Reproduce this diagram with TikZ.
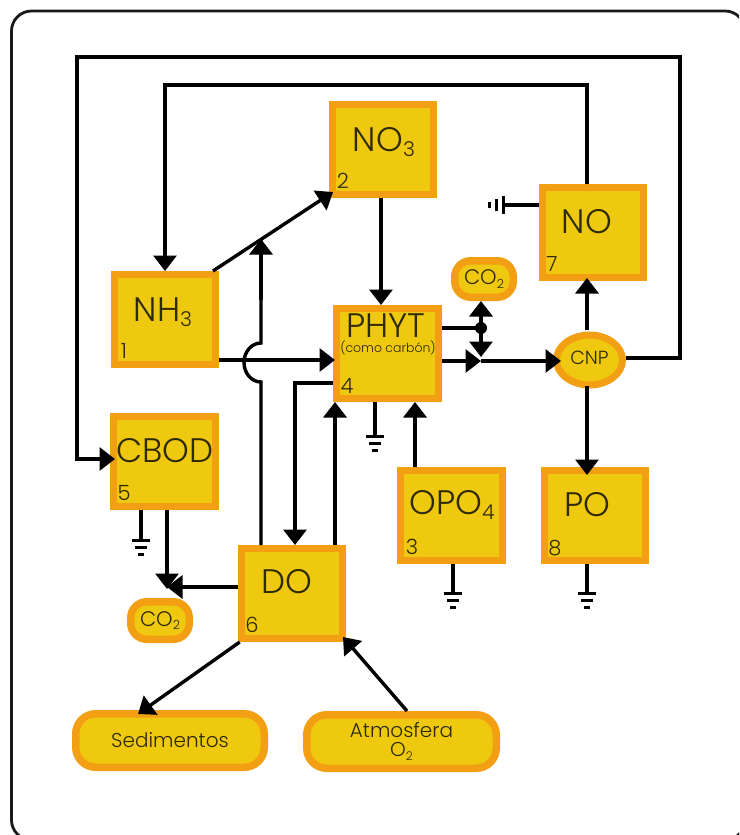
\documentclass[tikz,border=0pt]{standalone}
\usepackage{fontspec}
\setmainfont{Poppins Light}
\usetikzlibrary{arrows.meta}
\definecolor{boxfill}{HTML}{EFC90F}
\definecolor{boxedge}{HTML}{F39F14}
\definecolor{ink}{HTML}{2E2A08}
\tikzset{
  box/.style={draw=boxedge,fill=boxfill,line width=7pt,minimum width=101.5pt,minimum height=90pt,inner sep=0pt},
  pill/.style={draw=boxedge,fill=boxfill,line width=7.5pt,rounded corners=16pt,inner sep=0pt,align=center,text=ink},
  boxname/.style={text=ink,inner sep=0pt,font=\fontsize{34}{35}\selectfont},
  boxnum/.style={text=ink,inner sep=0pt,font=\fontsize{21}{22}\selectfont},
  wire/.style={line width=3.4pt,black},
  arr/.style={wire,-{Triangle[length=15.5pt,width=23pt]}},
  gnd/.style={line width=3pt,black},
}
\newcommand{\sbs}[1]{\raisebox{-0.3ex}{\scalebox{0.6}{#1}}}
\begin{document}
\begin{tikzpicture}[x=1pt,y=-1pt]
\useasboundingbox (0,0) rectangle (739,835);
\fill[white] (0,0) rectangle (739,835);
\begin{scope}
\clip (0,0) rectangle (739,835);
\draw[line width=2.8pt,black!90,rounded corners=20pt] (11.5,11) rectangle (745,840);
\end{scope}
% boxes
\node[box] (no3) at (383,149.5) {};
\node[box] (nh3) at (165,319.5) {};
\node[box] (phyt) at (387.5,353.5) {};
\node[box] (no) at (593,232.5) {};
\node[box] (cbod) at (164.5,461.5) {};
\node[box] (opo4) at (451.5,515.5) {};
\node[box] (po) at (595,515.5) {};
\node[box] (do) at (292,593.5) {};
\node[pill,minimum width=58.5pt,minimum height=36.5pt,font=\fontsize{21}{22}\selectfont] (co2a) at (484,279) {CO\sbs{2}};
\node[pill,minimum width=58.5pt,minimum height=37.5pt,font=\fontsize{21}{22}\selectfont] (co2b) at (160,620.5) {CO\sbs{2}};
\node[pill,minimum width=188.5pt,minimum height=53.5pt,rounded corners=20pt,font=\fontsize{20}{22}\selectfont] (sed) at (170,740.5) {Sedimentos};
\node[pill,minimum width=189.5pt,minimum height=53.5pt,rounded corners=20pt,font=\fontsize{20}{24}\selectfont] (atm) at (401.5,741.5) {Atmosfera\\[-5pt]O\sbs{2}};
% ellipse
\draw[boxedge,fill=boxfill,line width=7pt] (589.5,360) ellipse (33pt and 25pt);
\node[text=ink,inner sep=0pt,font=\fontsize{19}{20}\selectfont,minimum width=72pt,minimum height=56pt] (cnp) at (589.5,358) {CNP};
% labels
\node[boxname] (tno3) at (384,142) {NO\sbs{3}};
\node[boxname] (tnh3) at (163,312) {NH\sbs{3}};
\node[boxname] (tphyt) at (386,326) {PHYT};
\node[text=ink,inner sep=0pt,font=\fontsize{12.5}{13}\selectfont] (tcomo) at (388,348) {(como carbón)};
\node[boxname] (tno) at (587,222) {NO};
\node[boxname] (tcbod) at (165,451) {CBOD};
\node[boxname] (topo) at (452,505) {OPO\sbs{4}};
\node[boxname] (tpo) at (587,505) {PO};
\node[boxname] (tdo) at (287,582) {DO};
\node[boxnum] (n2) at (343,181) {2};
\node[boxnum] (n1) at (124,351) {1};
\node[boxnum] (n4) at (347,386) {4};
\node[boxnum] (n7) at (552,264) {7};
\node[boxnum] (n5) at (124,493) {5};
\node[boxnum] (n3) at (412,547) {3};
\node[boxnum] (n8) at (555,548) {8};
\node[boxnum] (n6) at (252,625) {6};
% named free points
\coordinate (jv) at (261,239);
\coordinate (jd) at (481,328);
\coordinate (jm) at (481,361);
\coordinate (jc) at (167,587);
% connectors
\draw[arr] (cnp.east |- 0,358) -- (680,358) -- (680,57) -- (77,57) -- (77,459) -- (115,459);
\draw[arr] (no.north -| 587,0) -- (587,85) -- (165,85) -- (nh3.north -| 165,0);
\draw[arr] (213,271) -- (333,192);
\draw[arr] (no3.south -| 381,0) -- (phyt.north -| 381,0);
\draw[arr] (nh3.east |- 0,360) -- (335,360);
\draw[wire] (do.north -| 261,0) -- (261,382) arc[start angle=270,end angle=90,x radius=17pt,y radius=19.5pt] -- (jv);
\draw[wire,-{Triangle[length=15.5pt,width=23pt]}] (261,300) -- (jv);
\draw[arr] (phyt.west |- 0,383) -- (295,383) -- (do.north -| 295,0);
\draw[arr] (do.north -| 335,0) -- (phyt.south -| 335,0);
\draw[arr] (opo4.north -| 415,0) -- (phyt.south -| 415,0);
\draw[wire] (phyt.east |- jd) -- (jd);
\fill (jd) circle (6pt);
\draw[arr] (jd) -- (co2a.south -| jd);
\draw[arr] (jd) -- (481,357);
\draw[arr] (phyt.east |- jm) -- (jm);
\draw[arr] (jm) -- (561,361);
\draw[arr] (cnp.north -| 587,0) -- (587,278);
\draw[arr] (cnp.south -| 587,0) -- (587,475);
\draw[arr] (cbod.south -| 167,0) -- (167,589);
\draw[arr] (do.west |- jc) -- (jc);
\draw[arr] (do.south west) ++(2,0) -- (138,714);
\draw[arr] (407,711) -- (343,637);
% grounds
\draw[wire] (phyt.south -| 375,0) -- (375,436);
\draw[gnd] (366,436) -- (384,436) (369,443) -- (381,443) (372,450) -- (378,450);
\draw[wire] (opo4.south -| 453,0) -- (453,593);
\draw[gnd] (444,593) -- (462,593) (447,600) -- (459,600) (450,607) -- (456,607);
\draw[wire] (po.south -| 587,0) -- (587,593);
\draw[gnd] (578,593) -- (596,593) (581,600) -- (593,600) (584,607) -- (590,607);
\draw[wire] (cbod.south -| 141,0) -- (141,540);
\draw[gnd] (132,540) -- (150,540) (135,547) -- (147,547) (138,554) -- (144,554);
\draw[wire] (no.west |- 0,205) -- (503,205);
\draw[gnd] (503,196) -- (503,214) (496,199) -- (496,211) (489,202) -- (489,208);
\end{tikzpicture}
\end{document}
